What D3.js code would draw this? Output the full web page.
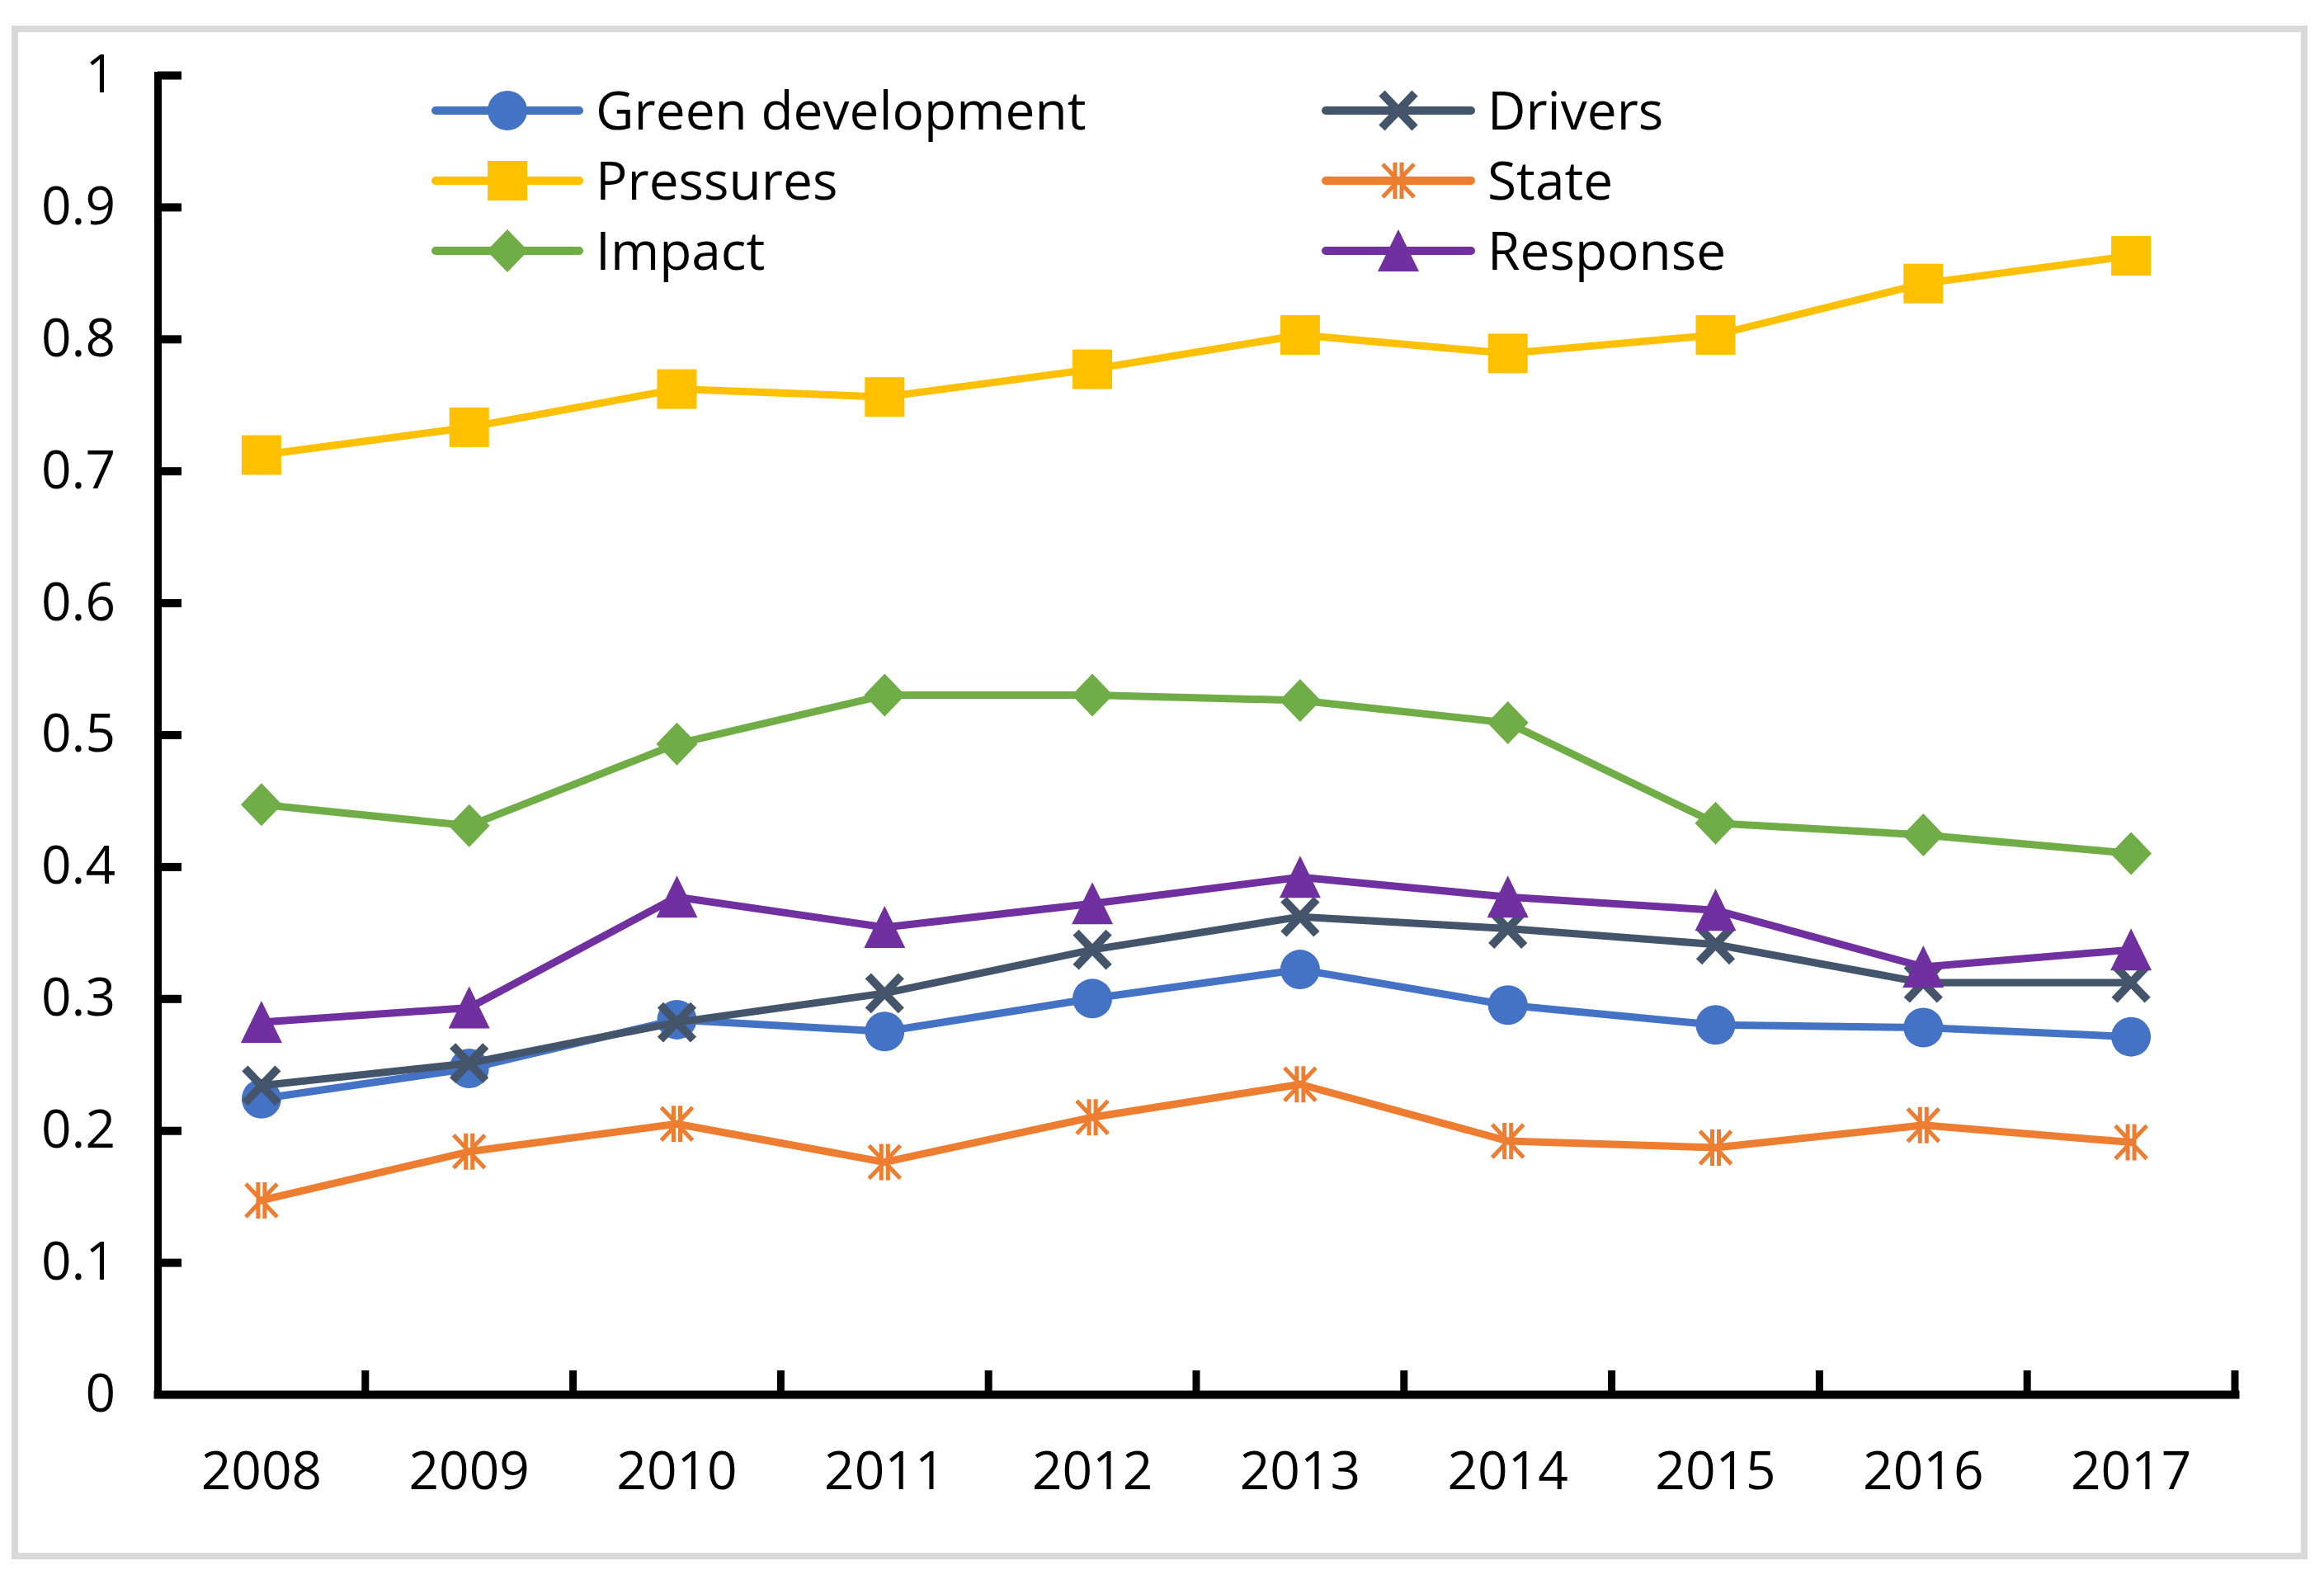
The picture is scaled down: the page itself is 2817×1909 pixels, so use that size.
<!DOCTYPE html>
<html>
<head>
<meta charset="utf-8">
<script src="https://cdn.jsdelivr.net/npm/d3@7/dist/d3.min.js"></script>
<style>
  html, body { margin: 0; padding: 0; background: #ffffff; }
  svg { display: block; }
  text { font-family: "Open Sans", "Noto Sans", sans-serif; fill: #000; }
</style>
</head>
<body>
<svg id="chart" width="2817" height="1909"></svg>
<script>
// ---- data ----
const years = ["2008","2009","2010","2011","2012","2013","2014","2015","2016","2017"];
const greenDevelopment = [0.224, 0.247, 0.284, 0.275, 0.300, 0.322, 0.295, 0.280, 0.278, 0.271];
const drivers          = [0.234, 0.251, 0.282, 0.304, 0.337, 0.362, 0.353, 0.341, 0.312, 0.312];
const pressures        = [0.712, 0.733, 0.762, 0.756, 0.777, 0.803, 0.789, 0.803, 0.842, 0.863];
const state            = [0.147, 0.184, 0.205, 0.176, 0.210, 0.235, 0.192, 0.187, 0.204, 0.191];
const impact           = [0.447, 0.431, 0.493, 0.530, 0.530, 0.526, 0.509, 0.433, 0.424, 0.410];
const response         = [0.282, 0.293, 0.377, 0.354, 0.372, 0.392, 0.377, 0.367, 0.324, 0.337];
const seriesNames = ["Green development","Drivers","Pressures","State","Impact","Response"];
const yTicks = [0, 0.1, 0.2, 0.3, 0.4, 0.5, 0.6, 0.7, 0.8, 0.9, 1];

const seriesValues = [greenDevelopment, drivers, pressures, state, impact, response];
const colors = ["#4472C4", "#44546A", "#FFC000", "#ED7D31", "#70AD47", "#7030A0"];
const markers = ["circle", "x", "square", "star", "diamond", "triangle"];

const svg = d3.select("#chart");
const W = 2817, H = 1909;

svg.append("rect").attr("x",0).attr("y",0).attr("width",W).attr("height",H).attr("fill","#fff");
// outer frame
svg.append("rect").attr("x",18).attr("y",35).attr("width",2775).attr("height",1851)
  .attr("fill","none").attr("stroke","#d9d9d9").attr("stroke-width",8);

const pLeft = 191, pRight = 2709, pTop = 91, pBottom = 1690;
const x = d3.scaleBand().domain(years).range([pLeft, pRight]).padding(0);
const y = d3.scaleLinear().domain([0, 1]).range([pBottom, pTop]);
const xc = d => x(d) + x.bandwidth() / 2;

// ---- axes ----
const yAxis = d3.axisLeft(y).tickValues(yTicks).tickFormat(d3.format("~g"))
  .tickSizeInner(-29).tickSizeOuter(0).tickPadding(51);
const gy = svg.append("g").attr("transform", `translate(${pLeft},0)`).call(yAxis);
gy.select(".domain").attr("stroke","#000").attr("stroke-width",9).attr("stroke-linecap","square");
gy.selectAll(".tick line").attr("stroke","#000").attr("stroke-width",10)
  .filter(d => d === 0).remove();
gy.selectAll(".tick text").attr("font-size",64).attr("font-family","Open Sans, sans-serif").attr("fill","#000");

const xAxis = d3.axisBottom(x).tickSize(0).tickPadding(70);
const gx = svg.append("g").attr("transform", `translate(0,${pBottom})`).call(xAxis);
gx.select(".domain").attr("stroke","#000").attr("stroke-width",10).attr("stroke-linecap","square");
gx.selectAll(".tick text").attr("font-size",64).attr("font-family","Open Sans, sans-serif").attr("fill","#000");

// x boundary ticks (pointing up, inside)
svg.append("g").selectAll("line").data(years).join("line")
  .attr("x1", d => x(d) + x.bandwidth()).attr("x2", d => x(d) + x.bandwidth())
  .attr("y1", pBottom).attr("y2", pBottom - 29)
  .attr("stroke","#000").attr("stroke-width",9);

// ---- marker drawing ----
function drawMarker(g, type, color) {
  if (type === "circle") {
    g.append("circle").attr("r", 24).attr("fill", color);
  } else if (type === "square") {
    g.append("rect").attr("x",-24).attr("y",-24).attr("width",48).attr("height",48).attr("fill", color);
  } else if (type === "diamond") {
    g.append("path").attr("d","M0,-26L25,0L0,26L-25,0Z").attr("fill", color);
  } else if (type === "triangle") {
    g.append("path").attr("d","M0,-26L25,25L-25,25Z").attr("fill", color);
  } else if (type === "x") {
    g.append("path").attr("d","M-20,-21L20,21M20,-21L-20,21")
      .attr("stroke", color).attr("stroke-width", 10).attr("fill","none");
  } else if (type === "star") {
    g.append("path").attr("d","M-19,-20L19,20M19,-20L-19,20M-4,-22V22M4,-22V22")
      .attr("stroke", color).attr("stroke-width", 5).attr("fill","none");
  }
}

// ---- series ----
const line = d3.line().x((d, i) => xc(years[i])).y(d => y(d));
seriesValues.forEach((vals, s) => {
  const g = svg.append("g");
  g.append("path").datum(vals).attr("d", line)
    .attr("fill","none").attr("stroke", colors[s]).attr("stroke-width", 9)
    .attr("stroke-linejoin","round").attr("stroke-linecap","round");
  vals.forEach((v, i) => {
    const m = g.append("g").attr("transform", `translate(${xc(years[i])},${y(v)})`);
    drawMarker(m, markers[s], colors[s]);
  });
});

// ---- legend ----
const legCols = [{x1: 528, x2: 702, tx: 722}, {x1: 1607, x2: 1783, tx: 1803}];
const legRows = [134, 219, 304];
seriesNames.forEach((name, s) => {
  const c = legCols[s % 2], ry = legRows[Math.floor(s / 2)];
  const g = svg.append("g");
  g.append("line").attr("x1", c.x1).attr("x2", c.x2).attr("y1", ry).attr("y2", ry)
    .attr("stroke", colors[s]).attr("stroke-width", 10).attr("stroke-linecap","round");
  const m = g.append("g").attr("transform", `translate(${(c.x1 + c.x2) / 2},${ry})`);
  drawMarker(m, markers[s], colors[s]);
  g.append("text").attr("x", c.tx).attr("y", ry + 23).attr("font-size", 64).text(name);
});
</script>
</body>
</html>
